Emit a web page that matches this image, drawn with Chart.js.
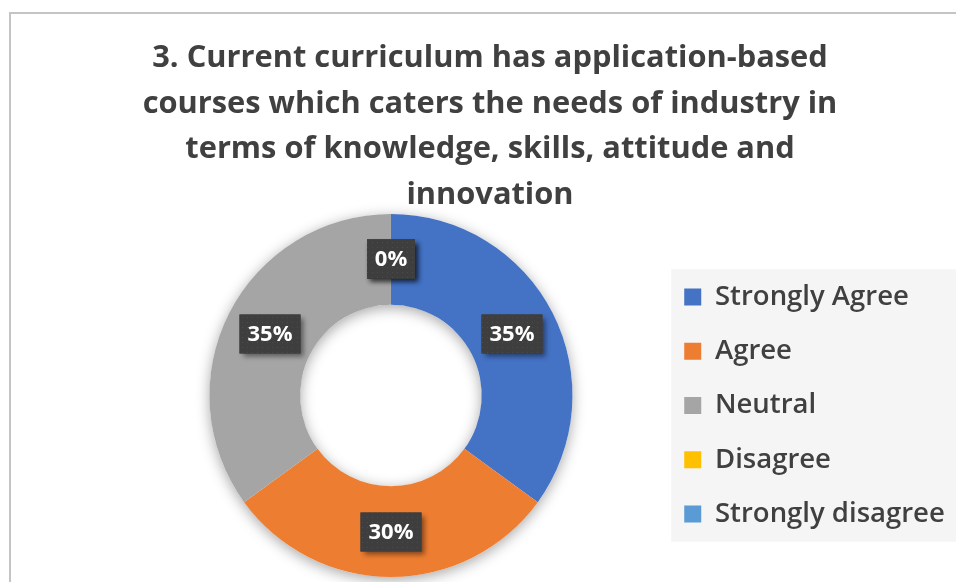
<!DOCTYPE html>
<html>
<head>
<meta charset="utf-8">
<script src="https://cdn.jsdelivr.net/npm/chart.js@4.4.1/dist/chart.umd.min.js"></script>
<style>
  html, body { margin: 0; padding: 0; background: #fff; }
  #wrap { position: relative; width: 956px; height: 582px; overflow: hidden; }
  #frame { position: absolute; left: 9px; top: 12px; right: -5px; bottom: -5px;
           border-top: 2px solid #c4c4c4; border-left: 2px solid #c4c4c4; }
  #title { position: absolute; left: 24px; width: 932px; top: 33px; text-align: center;
           font: bold 30.8px/45.5px 'Open Sans', sans-serif; color: #404040; }
  canvas { position: absolute; left: 0; top: 0; }
</style>
</head>
<body>
<div id="wrap">
  <div id="frame"></div>
  <canvas id="chart" width="956" height="582"></canvas>
  <div id="title"></div>
</div>
<script>
  const titleLines = [
    "3. Current curriculum has application-based",
    "courses which caters the needs of industry in",
    "terms of knowledge, skills, attitude and",
    "innovation",
  ];
  const categories = ["Strongly Agree", "Agree", "Neutral", "Disagree", "Strongly disagree"];
  const shares = [35, 30, 35, 0, 0];

  const sliceColors = ["#4472c4", "#ed7d31", "#a5a5a5", "#ffc000", "#5b9bd5"];
  const textColor = "#404040";

  Chart.defaults.font.family = "'Open Sans', sans-serif";

  document.getElementById("title").innerHTML = titleLines.join("<br>");

  // soft shadow under the whole ring (outside and in the hole)
  const ringShadow = {
    id: "ringShadow",
    beforeDatasetsDraw(chart) {
      const arc = chart.getDatasetMeta(0).data[0];
      if (!arc) return;
      const { x, y, outerRadius, innerRadius } = arc;
      const ctx = chart.ctx;
      ctx.save();
      ctx.beginPath();
      ctx.arc(x, y, outerRadius, 0, Math.PI * 2);
      ctx.arc(x, y, innerRadius, 0, Math.PI * 2, true);
      ctx.shadowColor = "rgba(0,0,0,0.35)";
      ctx.shadowBlur = 14;
      ctx.shadowOffsetY = 3;
      ctx.fillStyle = "#fff";
      ctx.fill();
      ctx.restore();
    },
  };

  // dark value boxes like Excel data callouts
  const dotCanvas = document.createElement("canvas");
  dotCanvas.width = 5;
  dotCanvas.height = 5;
  const dctx = dotCanvas.getContext("2d");
  dctx.fillStyle = "#3e3e3e";
  dctx.fillRect(0, 0, 5, 5);
  dctx.fillStyle = "#4b4b4b";
  dctx.fillRect(2, 2, 1, 1);

  const valueBoxes = {
    id: "valueBoxes",
    afterDatasetsDraw(chart) {
      const ctx = chart.ctx;
      const meta = chart.getDatasetMeta(0);
      ctx.save();
      ctx.font = "bold 22px 'Open Sans', sans-serif";
      ctx.textAlign = "center";
      ctx.textBaseline = "middle";
      meta.data.forEach((arc, i) => {
        const pos = arc.tooltipPosition();
        const x = Math.round(pos.x), y = Math.round(pos.y);
        const text = shares[i] + "%";
        const w = Math.round(ctx.measureText(text).width + 16);
        const h = 39;
        ctx.save();
        ctx.shadowColor = "rgba(0,0,0,0.45)";
        ctx.shadowBlur = 5;
        ctx.shadowOffsetX = 3;
        ctx.shadowOffsetY = 3;
        ctx.fillStyle = "#3e3e3e";
        ctx.fillRect(x - w / 2, y - h / 2, w, h);
        ctx.restore();
        ctx.fillStyle = ctx.createPattern(dotCanvas, "repeat");
        ctx.fillRect(x - w / 2, y - h / 2, w, h);
        ctx.fillStyle = "#fff";
        ctx.fillText(text, x, y + 1);
      });
      ctx.restore();
    },
  };

  // light grey panel behind the legend
  const legendPanel = {
    id: "legendPanel",
    beforeDraw(chart) {
      const boxes = chart.legend && chart.legend.legendHitBoxes;
      if (!boxes || !boxes.length) return;
      const first = boxes[0];
      const last = boxes[boxes.length - 1];
      const ctx = chart.ctx;
      ctx.save();
      ctx.fillStyle = "#f5f5f5";
      ctx.fillRect(first.left - 13, first.top - 14, chart.width - first.left + 13,
        last.top + last.height - first.top + 28);
      ctx.restore();
    },
  };

  new Chart(document.getElementById("chart"), {
    type: "doughnut",
    data: {
      labels: categories,
      datasets: [
        {
          data: shares,
          backgroundColor: sliceColors,
          borderWidth: 0,
        },
      ],
    },
    options: {
      responsive: false,
      animation: false,
      cutout: "50%",
      layout: { padding: { top: 214, bottom: 5, left: 124.4, right: 1.2 } },
      plugins: {
        tooltip: { enabled: false },
        legend: {
          position: "right",
          // empty title only pushes the items a bit lower
          title: { display: true, text: "", padding: 0, font: { size: 20, lineHeight: 1 } },
          labels: {
            boxWidth: 17,
            boxHeight: 17,
            padding: 26.75,
            color: textColor,
            font: { size: 27.5, weight: "600" },
          },
        },
      },
    },
    plugins: [ringShadow, valueBoxes, legendPanel],
  });
</script>
</body>
</html>
